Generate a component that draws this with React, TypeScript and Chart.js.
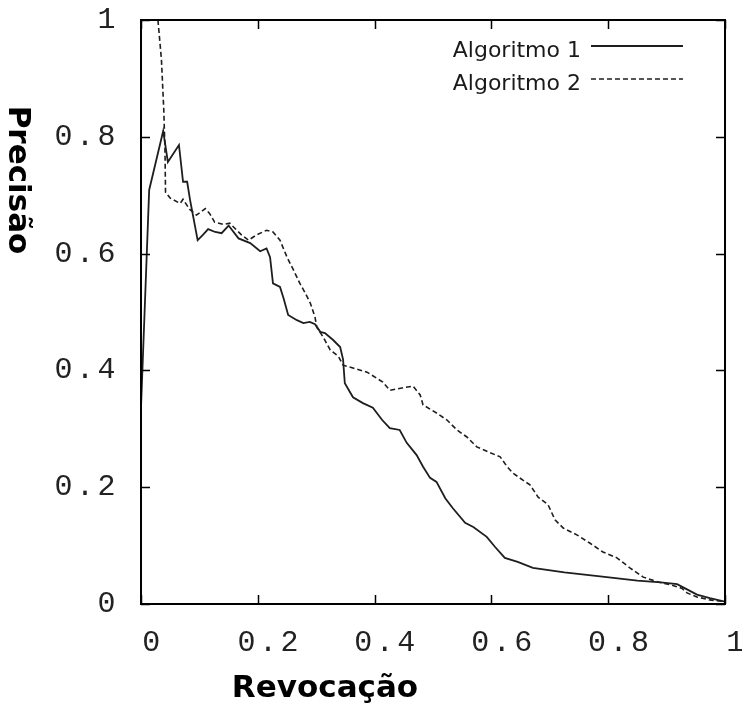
import React, { useEffect, useRef } from 'react';
import { Chart, registerables } from 'chart.js';

Chart.register(...registerables);

const seriesLabels = ['Algoritmo 1', 'Algoritmo 2'];

const recall1 = [
  0.0, 0.014, 0.038, 0.046, 0.065, 0.072, 0.079, 0.084, 0.097, 0.106, 0.115, 0.127, 0.138, 0.15, 0.167,
  0.187, 0.204, 0.215, 0.221, 0.226, 0.238, 0.244, 0.252, 0.267, 0.278, 0.289, 0.298, 0.307, 0.315, 0.329,
  0.341, 0.346, 0.349, 0.363, 0.38, 0.397, 0.413, 0.426, 0.443, 0.455, 0.472, 0.483, 0.495, 0.506, 0.521,
  0.534, 0.555, 0.569, 0.592, 0.606, 0.623, 0.645, 0.671, 0.725, 0.79, 0.85, 0.89, 0.918, 0.935, 0.952,
  0.974, 1.0,
];
const precision1 = [
  0.336, 0.709, 0.81, 0.757, 0.786, 0.723, 0.723, 0.692, 0.623, 0.632, 0.642, 0.637, 0.635, 0.648, 0.626,
  0.618, 0.604, 0.609, 0.594, 0.549, 0.543, 0.524, 0.495, 0.486, 0.481, 0.483, 0.479, 0.466, 0.464, 0.452,
  0.44, 0.419, 0.378, 0.354, 0.344, 0.336, 0.315, 0.301, 0.298, 0.276, 0.255, 0.235, 0.216, 0.209, 0.181,
  0.164, 0.139, 0.132, 0.115, 0.098, 0.079, 0.072, 0.062, 0.054, 0.047, 0.04, 0.037, 0.034, 0.025, 0.016,
  0.01, 0.004,
];

const recall2 = [
  0.029, 0.035, 0.039, 0.041, 0.042, 0.05, 0.067, 0.072, 0.083, 0.095, 0.11, 0.118, 0.126, 0.141, 0.152,
  0.172, 0.184, 0.198, 0.215, 0.226, 0.238, 0.25, 0.261, 0.272, 0.281, 0.29, 0.298, 0.301, 0.312, 0.324,
  0.338, 0.346, 0.363, 0.387, 0.414, 0.426, 0.447, 0.466, 0.478, 0.483, 0.506, 0.524, 0.541, 0.558, 0.575,
  0.598, 0.615, 0.627, 0.637, 0.654, 0.666, 0.68, 0.697, 0.709, 0.723, 0.747, 0.769, 0.791, 0.815, 0.837,
  0.86, 0.884, 0.906, 0.926, 0.935, 0.952, 0.974, 1.0,
];
const precision2 = [
  1.0, 0.932, 0.846, 0.78, 0.705, 0.695, 0.686, 0.693, 0.676, 0.666, 0.677, 0.668, 0.654, 0.65, 0.652,
  0.632, 0.623, 0.632, 0.64, 0.637, 0.623, 0.594, 0.572, 0.549, 0.533, 0.515, 0.491, 0.474, 0.457, 0.435,
  0.424, 0.409, 0.404, 0.397, 0.38, 0.366, 0.37, 0.373, 0.358, 0.341, 0.327, 0.315, 0.298, 0.286, 0.269,
  0.259, 0.252, 0.235, 0.224, 0.212, 0.204, 0.183, 0.17, 0.144, 0.13, 0.118, 0.104, 0.089, 0.079, 0.062,
  0.046, 0.038, 0.033, 0.027, 0.019, 0.012, 0.007, 0.004,
];

const xTickValues = [0, 0.2, 0.4, 0.6, 0.8, 1];
const xTickLabels = ['0', '0.2', '0.4', '0.6', '0.8', '1'];
const yTickValues = [0, 0.2, 0.4, 0.6, 0.8, 1];
const yTickLabels = ['0', '0.2', '0.4', '0.6', '0.8', '1'];

const xTitle = 'Revocação';
const yTitle = 'Precisão';

const TICK_FONT = "'Liberation Mono', 'DejaVu Sans Mono', monospace";
const TITLE_FONT = "'DejaVu Sans', sans-serif";
const LINE_COLOR = '#1e1e1e';

const framePlugin = {
  id: 'frameAndDecor',
  beforeDraw(chart: any) {
    chart.ctx.letterSpacing = '3.5px';
  },
  beforeDatasetsDraw(chart: any) {
    chart.ctx.letterSpacing = '0px';
  },
  afterDraw(chart: any) {
    const { ctx, chartArea: a, scales } = chart;
    ctx.save();
    ctx.letterSpacing = '0px';
    // frame
    ctx.strokeStyle = '#000';
    ctx.lineWidth = 2;
    ctx.setLineDash([]);
    ctx.strokeRect(a.left, a.top, a.right - a.left, a.bottom - a.top);
    // inward ticks on all four sides
    const tl = 9;
    ctx.lineWidth = 1.5;
    ctx.beginPath();
    scales.x.ticks.forEach((t: any) => {
      const px = Math.round(scales.x.getPixelForValue(t.value)) + 0.5;
      ctx.moveTo(px, a.bottom);
      ctx.lineTo(px, a.bottom - tl);
      ctx.moveTo(px, a.top);
      ctx.lineTo(px, a.top + tl);
    });
    scales.y.ticks.forEach((t: any) => {
      const py = Math.round(scales.y.getPixelForValue(t.value)) + 0.5;
      ctx.moveTo(a.left, py);
      ctx.lineTo(a.left + tl, py);
      ctx.moveTo(a.right, py);
      ctx.lineTo(a.right - tl, py);
    });
    ctx.stroke();

    // legend (text right-aligned, then line sample)
    const legendRows = [57, 90];
    ctx.font = `22px ${TITLE_FONT}`;
    ctx.textAlign = 'right';
    ctx.textBaseline = 'alphabetic';
    chart.data.datasets.forEach((ds: any, i: number) => {
      const base = legendRows[i];
      ctx.fillStyle = '#1a1a1a';
      ctx.fillText(ds.label, 581, base);
      ctx.strokeStyle = ds.borderColor;
      ctx.lineWidth = ds.borderWidth;
      ctx.setLineDash(ds.borderDash || []);
      ctx.beginPath();
      ctx.moveTo(591, base - 11);
      ctx.lineTo(683, base - 11);
      ctx.stroke();
    });
    ctx.setLineDash([]);

    // axis titles
    ctx.fillStyle = '#000';
    ctx.font = `bold 31px ${TITLE_FONT}`;
    ctx.textAlign = 'center';
    ctx.textBaseline = 'alphabetic';
    ctx.fillText(xTitle, 325, 697);
    ctx.translate(9, 180);
    ctx.rotate(Math.PI / 2);
    ctx.fillText(yTitle, 0, 0);
    ctx.restore();
  },
};

export default function App() {
  const canvasRef = useRef<HTMLCanvasElement | null>(null);

  useEffect(() => {
    const canvas = canvasRef.current;
    if (!canvas) return;
    const toPoints = (xs: number[], ys: number[]) => xs.map((x, i) => ({ x, y: ys[i] }));
    const chart = new Chart(canvas, {
      type: 'line',
      data: {
        datasets: [
          {
            label: seriesLabels[0],
            data: toPoints(recall1, precision1),
            borderColor: LINE_COLOR,
            borderWidth: 1.8,
            borderDash: [],
            pointRadius: 0,
            tension: 0,
            fill: false,
          },
          {
            label: seriesLabels[1],
            data: toPoints(recall2, precision2),
            borderColor: LINE_COLOR,
            borderWidth: 1.6,
            borderDash: [5, 3],
            pointRadius: 0,
            tension: 0,
            fill: false,
          },
        ],
      },
      options: {
        responsive: false,
        animation: false,
        devicePixelRatio: 1,
        layout: { padding: 0 },
        plugins: { legend: { display: false }, tooltip: { enabled: false } },
        scales: {
          x: {
            type: 'linear',
            min: 0,
            max: 1,
            grid: { display: false, drawTicks: false },
            border: { display: false },
            afterFit: (s: any) => {
              s.height = 100;
              s.paddingLeft = 0;
              s.paddingRight = 17;
            },
            afterBuildTicks: (s: any) => {
              s.ticks = xTickValues.map((v) => ({ value: v }));
            },
            ticks: {
              autoSkip: false,
              maxRotation: 0,
              minRotation: 0,
              padding: 21,
              labelOffset: 12,
              color: '#222',
              font: { family: TICK_FONT, size: 30 },
              callback: (_v: any, i: number) => xTickLabels[i],
            },
          },
          y: {
            type: 'linear',
            min: 0,
            max: 1,
            grid: { display: false, drawTicks: false },
            border: { display: false },
            afterFit: (s: any) => {
              s.width = 141;
              s.paddingTop = 20;
              s.paddingBottom = 0;
            },
            afterBuildTicks: (s: any) => {
              s.ticks = yTickValues.map((v) => ({ value: v }));
            },
            ticks: {
              autoSkip: false,
              padding: 22,
              color: '#222',
              font: { family: TICK_FONT, size: 30 },
              callback: (_v: any, i: number) => yTickLabels[i],
            },
          },
        },
      } as any,
      plugins: [framePlugin],
    });
    return () => chart.destroy();
  }, []);

  return (
    <div style={{ position: 'absolute', left: 0, top: 0, width: 742, height: 704, background: '#fff' }}>
      <canvas ref={canvasRef} width={742} height={704} style={{ display: 'block' }} />
    </div>
  );
}
